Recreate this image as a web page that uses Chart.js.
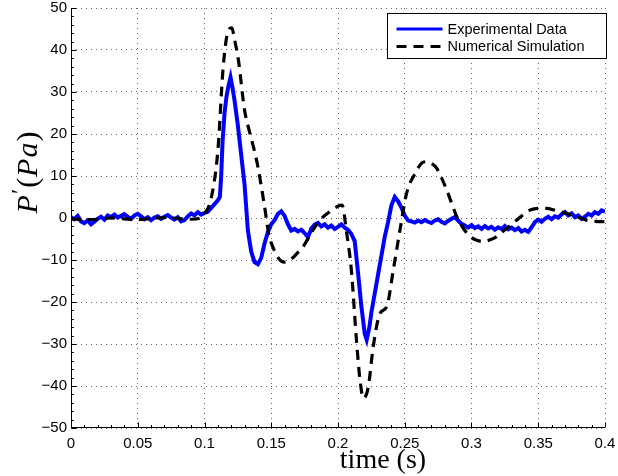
<!DOCTYPE html>
<html><head><meta charset="utf-8">
<script src="https://cdn.jsdelivr.net/npm/chart.js@4"></script>
<style>html,body{margin:0;padding:0;background:#fff;overflow:hidden}</style>
</head><body>
<canvas id="c" width="618" height="476"></canvas>
<script>
// ---- tick definitions ----
const xTicks = [0, 0.05, 0.1, 0.15, 0.2, 0.25, 0.3, 0.35, 0.4];
const xTickLabels = ['0', '0.05', '0.1', '0.15', '0.2', '0.25', '0.3', '0.35', '0.4'];
const yTicks = [-50, -40, -30, -20, -10, 0, 10, 20, 30, 40, 50];
const yTickLabels = ['\u221250', '\u221240', '\u221230', '\u221220', '\u221210', '0', '10', '20', '30', '40', '50'];

// ---- series labels ----
const seriesNames = ['Experimental Data', 'Numerical Simulation'];

// ---- Experimental data (time s, pressure Pa) ----
const expTime = [
  0, 0.0025, 0.005, 0.0075, 0.01, 0.0125, 0.015, 0.0175, 0.02, 0.0225,
  0.025, 0.0275, 0.03, 0.0325, 0.035, 0.0375, 0.04, 0.0425, 0.045, 0.0475,
  0.05, 0.0525, 0.055, 0.0575, 0.06, 0.0625, 0.065, 0.0675, 0.07, 0.0725,
  0.075, 0.0775, 0.08, 0.0825, 0.085, 0.0875, 0.09, 0.0925, 0.095, 0.0975,
  0.1, 0.1025, 0.105, 0.1075, 0.11, 0.1115, 0.1125, 0.1135, 0.115, 0.1165,
  0.118, 0.1195, 0.121, 0.1225, 0.125, 0.1275, 0.13, 0.1325, 0.135, 0.1375,
  0.14, 0.1425, 0.145, 0.1475, 0.15, 0.1525, 0.155, 0.1575, 0.16, 0.1625,
  0.165, 0.1675, 0.17, 0.1725, 0.175, 0.1775, 0.18, 0.1825, 0.185, 0.1875,
  0.19, 0.1925, 0.195, 0.1975, 0.2, 0.2025, 0.205, 0.2075, 0.21, 0.2125,
  0.215, 0.2175, 0.22, 0.2215, 0.2235, 0.225, 0.2275, 0.23, 0.2325, 0.235,
  0.2375, 0.24, 0.2425, 0.245, 0.2475, 0.25, 0.2525, 0.255, 0.2575, 0.26,
  0.2625, 0.265, 0.2675, 0.27, 0.2725, 0.275, 0.2775, 0.28, 0.2825, 0.285,
  0.2875, 0.29, 0.2925, 0.295, 0.2975, 0.3, 0.3025, 0.305, 0.3075, 0.31,
  0.3125, 0.315, 0.3175, 0.32, 0.3225, 0.325, 0.3275, 0.33, 0.3325, 0.335,
  0.3375, 0.34, 0.3425, 0.345, 0.3475, 0.35, 0.3525, 0.355, 0.3575, 0.36,
  0.3625, 0.365, 0.3675, 0.37, 0.3725, 0.375, 0.3775, 0.38, 0.3825, 0.385,
  0.3875, 0.39, 0.3925, 0.395, 0.3975, 0.4
];
const expValue = [
  0.2, -0.3, 0.5, -0.8, -1.2, -0.6, -1.5, -0.9, -0.2, 0.3,
  -0.4, 0.6, 0.2, 0.8, 0.1, 0.5, 0.9, 0.3, -0.2, 0.6,
  1.0, 0.4, -0.3, 0.2, -0.5, 0.1, 0.4, -0.2, 0.3, 0.7,
  0.1, -0.4, 0.2, -0.8, -0.5, 0.4, 1.1, 0.6, 1.4, 0.8,
  1.2, 1.5, 2.4, 3.3, 4.2, 5.0, 10, 18, 25, 29,
  31.5, 33.5, 31, 28, 22, 15, 8, -3, -8, -10.5,
  -11, -9.5, -6, -3.3, -1.5, -0.5, 1.0, 1.6, 0.5, -1.5,
  -3.0, -2.6, -3.2, -2.8, -3.6, -4.6, -2.5, -1.6, -1.2, -2.0,
  -1.5, -2.3, -1.8, -2.6, -2.1, -1.5, -2.3, -2.8, -3.8, -5.5,
  -13, -21, -27.5, -29, -26, -22.5, -18, -13.5, -9, -4.5,
  -1, 3, 5, 4, 2.5, 0.6, -0.6, -0.8, -1.1, -0.6,
  -1.0, -0.5, -0.9, -1.2, -0.6, -0.3, -0.9, -1.3, -0.7, -0.2,
  0.2, -0.6, -1.4, -1.8, -2.3, -1.7, -2.4, -2.0, -2.6, -1.9,
  -2.5, -2.1, -2.8, -2.2, -2.6, -1.9, -2.7, -2.3, -2.9, -2.4,
  -3.2, -2.8, -3.3, -2.2, -1.0, -0.4, -0.9, -0.2, 0.3, -0.3,
  0.4, 0.1, 0.9, 1.4, 0.6, 1.1, 0.2, 0.6, -0.2, 0.3,
  1.0, 0.6, 1.4, 1.0, 1.8, 1.5
];

// ---- Numerical simulation (time s, pressure Pa) ----
const simTime = [
  0, 0.01, 0.02, 0.03, 0.04, 0.05, 0.06, 0.07, 0.08, 0.09,
  0.097, 0.1, 0.105, 0.11, 0.114, 0.118, 0.1205, 0.1225, 0.1254, 0.13,
  0.134, 0.137, 0.14, 0.145, 0.148, 0.152, 0.156, 0.16, 0.165, 0.17,
  0.174, 0.18, 0.1865, 0.195, 0.2, 0.203, 0.2065, 0.21, 0.214, 0.2165,
  0.219, 0.2227, 0.2264, 0.2315, 0.2365, 0.2414, 0.2464, 0.2514, 0.2577, 0.2625,
  0.266, 0.27, 0.274, 0.2814, 0.289, 0.294, 0.299, 0.304, 0.309, 0.314,
  0.319, 0.325, 0.331, 0.338, 0.344, 0.35, 0.356, 0.363, 0.371, 0.379,
  0.386, 0.393, 0.4
];
const simValue = [
  -0.2, -0.4, -0.3, 0.0, -0.2, -0.4, -0.1, 0.1, -0.1, -0.3,
  0.0, 1.0, 4.7, 16, 36, 44.8, 45.3, 42.5, 37.6, 25.7,
  20.2, 16.5, 12.2, 2.7, -3.6, -7.5, -9.8, -10.5, -9.8, -8.2,
  -6.8, -3.5, -0.5, 1.8, 2.8, 3.1, -3.6, -12.4, -29.8, -38.6,
  -42.9, -40.2, -30.6, -22.7, -21.1, -12.4, -2.9, 5.9, 10.6, 13.0,
  13.4, 13.0, 11.8, 6.7, 0.3, -2.5, -4.4, -5.3, -5.6, -5.2,
  -4.4, -2.8, -1.3, 0.6, 1.9, 2.3, 2.3, 1.8, 1.1, 0.3,
  -0.5, -0.8, -0.9
];

const SANS = '"Liberation Sans", Arial, Helvetica, sans-serif';
const SERIF = '"Liberation Serif", "Times New Roman", serif';

const decor = {
  id: 'decor',
  afterDraw(chart) {
    const ctx = chart.ctx, ca = chart.chartArea;
    const xs = chart.scales.x, ys = chart.scales.y;
    ctx.save();
    ctx.strokeStyle = '#000';
    ctx.lineWidth = 1;
    const L = Math.round(ca.left) + 0.5, B = Math.round(ca.bottom) - 0.5;
    ctx.beginPath();
    ctx.moveTo(L, Math.round(ca.top)); ctx.lineTo(L, B);
    ctx.lineTo(Math.round(ca.right), B);
    ctx.stroke();
    // major ticks
    ctx.beginPath();
    xTicks.forEach(v => { const p = Math.round(xs.getPixelForValue(v)) + 0.5; ctx.moveTo(p, B); ctx.lineTo(p, B - 5); });
    yTicks.forEach(v => { const p = Math.round(ys.getPixelForValue(v)) + 0.5; ctx.moveTo(L, p); ctx.lineTo(L + 5, p); });
    // minor ticks
    for (let i = 0; i < xTicks.length - 1; i++) {
      for (let k = 1; k < 5; k++) {
        const v = xTicks[i] + (xTicks[i + 1] - xTicks[i]) * k / 5;
        const p = Math.round(xs.getPixelForValue(v)) + 0.5; ctx.moveTo(p, B); ctx.lineTo(p, B - 2.5);
      }
    }
    for (let i = 0; i < yTicks.length - 1; i++) {
      for (let k = 1; k < 5; k++) {
        const v = yTicks[i] + (yTicks[i + 1] - yTicks[i]) * k / 5;
        const p = Math.round(ys.getPixelForValue(v)) + 0.5; ctx.moveTo(L, p); ctx.lineTo(L + 2.5, p);
      }
    }
    ctx.stroke();

    // x title
    ctx.fillStyle = '#000';
    ctx.font = '28px ' + SERIF;
    ctx.textAlign = 'center';
    ctx.textBaseline = 'alphabetic';
    ctx.fillText('time (s)', 383, 468);

    // y title (rotated, math style)
    const parts = [
      { t: 'P', f: 'italic 30px ' + SERIF, dy: 0 },
      { t: '\u2032', f: '24px ' + SERIF, dy: -10 },
      { t: '(', f: '30px ' + SERIF, dy: 0 },
      { t: 'P', f: 'italic 30px ' + SERIF, dy: 0 },
      { t: 'a', f: 'italic 30px ' + SERIF, dy: 0 },
      { t: ')', f: '30px ' + SERIF, dy: 0 }
    ];
    let total = 0;
    parts.forEach(p => { ctx.font = p.f; p.w = ctx.measureText(p.t).width + 1; total += p.w; });
    ctx.translate(37, 172);
    ctx.rotate(-Math.PI / 2);
    ctx.textAlign = 'left';
    let cx = -total / 2;
    parts.forEach(p => { ctx.font = p.f; ctx.fillText(p.t, cx, p.dy); cx += p.w; });
    ctx.restore();

    // legend
    ctx.save();
    const lw = 219, lh = 45;
    const lx = Math.round(ca.right) - lw + 1 + 0.5, ly = Math.round(ca.top) + 5 + 0.5;
    ctx.fillStyle = '#fff';
    ctx.fillRect(lx, ly, lw, lh);
    ctx.strokeStyle = '#000'; ctx.lineWidth = 1;
    ctx.strokeRect(lx, ly, lw, lh);
    ctx.font = '14.5px ' + SANS;
    ctx.textAlign = 'left'; ctx.textBaseline = 'middle';
    const order = [0, 1];
    order.forEach((di, i) => {
      const ds = chart.data.datasets[di];
      const yy = ly + 15.5 + i * 17.5;
      ctx.beginPath();
      ctx.strokeStyle = ds.borderColor; ctx.lineWidth = Math.min(ds.borderWidth, 3.2);
      ctx.setLineDash(ds.borderDash || []);
      ctx.moveTo(lx + 9, yy); ctx.lineTo(lx + 55, yy);
      ctx.stroke();
      ctx.setLineDash([]);
      ctx.fillStyle = '#000';
      ctx.fillText(ds.label, lx + 60, yy + 0.5);
    });
    ctx.restore();
  }
};

new Chart(document.getElementById('c'), {
  type: 'line',
  data: {
    datasets: [
      {
        label: seriesNames[0],
        data: expTime.map((t, i) => ({ x: t, y: expValue[i] })),
        borderColor: '#0000ff', borderWidth: 4, pointRadius: 0,
        tension: 0, fill: false, order: 1
      },
      {
        label: seriesNames[1],
        data: simTime.map((t, i) => ({ x: t, y: simValue[i] })),
        borderColor: '#000000', borderWidth: 3.2, borderDash: [10, 7], pointRadius: 0,
        cubicInterpolationMode: 'monotone', fill: false, order: 0
      }
    ]
  },
  options: {
    responsive: false, animation: false, devicePixelRatio: 1,
    layout: { padding: { top: 8, right: 13, left: 0, bottom: 0 } },
    plugins: { legend: { display: false }, tooltip: { enabled: false } },
    scales: {
      x: {
        type: 'linear', min: 0, max: 0.4,
        afterBuildTicks: s => { s.ticks = xTicks.map(v => ({ value: v })); },
        afterFit: s => { s.height = 48; s.paddingLeft = 0; s.paddingRight = 0; },
        ticks: {
          callback: v => xTickLabels[xTicks.indexOf(v)],
          font: { family: SANS, size: 15, lineHeight: 1 }, color: '#000',
          padding: 8, maxRotation: 0, autoSkip: false
        },
        grid: { color: 'rgba(0,0,0,0.6)', lineWidth: 1, drawTicks: false },
        border: { display: false, dash: [1, 4] }
      },
      y: {
        type: 'linear', min: -50, max: 50,
        afterBuildTicks: s => { s.ticks = yTicks.map(v => ({ value: v })); },
        afterFit: s => { s.width = 71; s.paddingTop = 0; s.paddingBottom = 0; },
        ticks: {
          callback: v => yTickLabels[yTicks.indexOf(v)],
          font: { family: SANS, size: 15, lineHeight: 1 }, color: '#000',
          padding: 4, autoSkip: false
        },
        grid: { color: 'rgba(0,0,0,0.6)', lineWidth: 1, drawTicks: false },
        border: { display: false, dash: [1, 4] }
      }
    }
  },
  plugins: [decor]
});
</script>
</body></html>
